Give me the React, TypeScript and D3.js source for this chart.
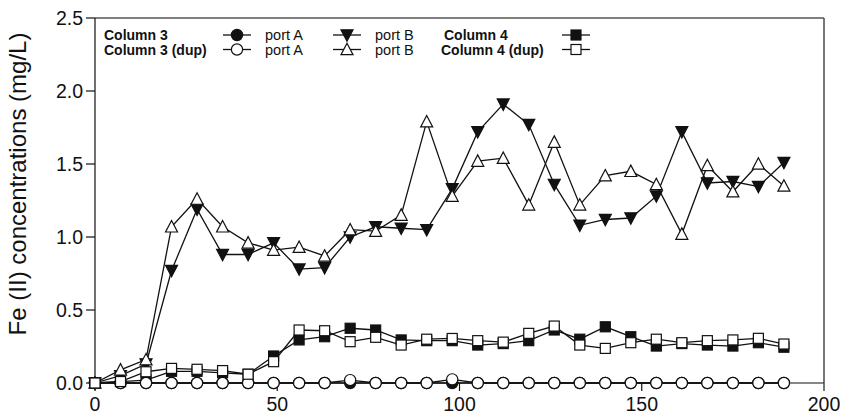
import React from "react";
import * as d3 from "d3";

const days = [0, 7, 14, 21, 28, 35, 42, 49, 56, 63, 70, 77, 84, 91, 98, 105, 112, 119, 126, 133, 140, 147, 154, 161, 168, 175, 182, 189];

const col3PortA = [0, 0, 0, 0, 0, 0, 0, 0, 0, 0, 0, 0, 0, 0, 0, 0, 0, 0, 0, 0, 0, 0, 0, 0, 0, 0, 0, 0];
const col3PortB = [0, 0.05, 0.13, 0.77, 1.19, 0.88, 0.88, 0.96, 0.78, 0.79, 1.0, 1.07, 1.06, 1.05, 1.33, 1.72, 1.91, 1.77, 1.36, 1.08, 1.12, 1.13, 1.28, 1.72, 1.37, 1.38, 1.345, 1.51];
const col3DupPortA = [0, 0, 0, 0, 0, 0, 0, 0, 0, 0, 0.02, 0, 0, 0, 0.025, 0, 0, 0, 0, 0, 0, 0, 0, 0, 0, 0, 0, 0];
const col3DupPortB = [0, 0.09, 0.16, 1.07, 1.26, 1.07, 0.96, 0.91, 0.93, 0.87, 1.05, 1.04, 1.15, 1.79, 1.28, 1.52, 1.54, 1.22, 1.65, 1.22, 1.42, 1.45, 1.36, 1.02, 1.49, 1.31, 1.5, 1.35];
const col4 = [0, 0.01, 0.02, 0.08, 0.08, 0.07, 0.06, 0.185, 0.295, 0.317, 0.375, 0.363, 0.295, 0.29, 0.29, 0.26, 0.27, 0.29, 0.363, 0.3, 0.385, 0.317, 0.253, 0.27, 0.26, 0.253, 0.276, 0.245];
const col4Dup = [0, 0.01, 0.077, 0.1, 0.094, 0.085, 0.06, 0.146, 0.363, 0.358, 0.283, 0.313, 0.26, 0.3, 0.305, 0.29, 0.28, 0.34, 0.39, 0.26, 0.237, 0.276, 0.3, 0.276, 0.29, 0.295, 0.306, 0.267];

const xTicks = [0, 50, 100, 150, 200];
const yTicks = [0, 0.5, 1.0, 1.5, 2.0, 2.5];
const yLabel = "Fe (II) concentrations (mg/L)";

type Shape = "circle" | "triDown" | "triUp" | "square";
const series: { values: number[]; shape: Shape; filled: boolean }[] = [
  { values: col3PortA, shape: "circle", filled: true },
  { values: col3PortB, shape: "triDown", filled: true },
  { values: col4, shape: "square", filled: true },
  { values: col3DupPortA, shape: "circle", filled: false },
  { values: col3DupPortB, shape: "triUp", filled: false },
  { values: col4Dup, shape: "square", filled: false },
];

const W = 842, H = 415;
const L = 95, R = 824, T = 18, B = 383;
const FONT = "Liberation Sans, Arial, Helvetica, sans-serif";

function Marker({ shape, filled, x, y }: { shape: Shape; filled: boolean; x: number; y: number }) {
  const fill = filled ? "#111" : "#fff";
  const stroke = "#111";
  const sw = 1.2;
  if (shape === "circle") return <circle cx={x} cy={y} r={5.6} fill={fill} stroke={stroke} strokeWidth={sw} />;
  if (shape === "square") return <rect x={x - 5} y={y - 5} width={10} height={10} fill={fill} stroke={stroke} strokeWidth={sw} />;
  const s = 6;
  const h = 5.2;
  const pts =
    shape === "triDown"
      ? [[x - s, y - h], [x + s, y - h], [x, y + h + 1]]
      : [[x - s, y + h], [x + s, y + h], [x, y - h - 1]];
  return <polygon points={pts.map((p) => p.join(",")).join(" ")} fill={fill} stroke={stroke} strokeWidth={sw} strokeLinejoin="miter" />;
}

export default function App() {
  const x = d3.scaleLinear().domain([0, 200]).range([L, R]);
  const y = d3.scaleLinear().domain([0, 2.5]).range([B, T]);
  const line = d3.line<number>().x((_, i) => x(days[i])).y((v) => y(v));

  const legendRows = [
    { label: "Column 3", labelX: 104, y: 35, items: [{ shape: "circle" as Shape, filled: true, cx: 237, text: "port A" }, { shape: "triDown" as Shape, filled: true, cx: 347, text: "port B" }], label2: "Column 4", label2X: 444, sq: { filled: true } },
    { label: "Column 3 (dup)", labelX: 104, y: 49.5, items: [{ shape: "circle" as Shape, filled: false, cx: 237, text: "port A" }, { shape: "triUp" as Shape, filled: false, cx: 347, text: "port B" }], label2: "Column 4 (dup)", label2X: 441, sq: { filled: false } },
  ];

  return (
    <svg width={W} height={H} style={{ position: "absolute", left: 0, top: 0, background: "#fff" }} fontFamily={FONT}>
      <rect x={0} y={0} width={W} height={H} fill="#fff" />
      {/* frame */}
      <line x1={L} x2={R} y1={T} y2={T} stroke="#555" strokeWidth={1.6} />
      <line x1={R} x2={R} y1={T} y2={B} stroke="#555" strokeWidth={1.6} />
      <line x1={L} x2={R} y1={B} y2={B} stroke="#111" strokeWidth={1.2} />
      <line x1={L} x2={L} y1={T} y2={B} stroke="#111" strokeWidth={1.2} />
      {/* y ticks */}
      {yTicks.map((t) => (
        <g key={"y" + t}>
          <line x1={L - 9} x2={L} y1={y(t)} y2={y(t)} stroke="#111" strokeWidth={1.2} />
          <text x={L - 12} y={y(t)} dy="0.36em" textAnchor="end" fontSize={19.5} fill="#111">{d3.format(".1f")(t)}</text>
        </g>
      ))}
      {/* x ticks */}
      {xTicks.map((t) => (
        <g key={"x" + t}>
          <line x1={x(t)} x2={x(t)} y1={B} y2={B + 8} stroke={t === 200 ? "#555" : "#111"} strokeWidth={t === 200 ? 1.6 : 1.2} />
          <text x={x(t)} y={411} textAnchor="middle" fontSize={19.5} fill="#111">{t}</text>
        </g>
      ))}
      <text transform={`translate(26, 184) rotate(-90)`} textAnchor="middle" fontSize={24} fill="#111">{yLabel}</text>
      {/* series lines */}
      {series.map((s, i) => (
        <g key={"s" + i}>
          <path d={line(s.values) || ""} fill="none" stroke="#111" strokeWidth={1.3} />
          {s.values.map((v, j) => (
            <Marker key={j} shape={s.shape} filled={s.filled} x={x(days[j])} y={y(v)} />
          ))}
        </g>
      ))}
      {/* legend */}
      {legendRows.map((r, i) => (
        <g key={"lg" + i}>
          <text x={r.labelX} y={r.y} dy="0.36em" fontSize={14} fontWeight="bold" fill="#111">{r.label}</text>
          {r.items.map((it, k) => (
            <g key={k}>
              <line x1={it.cx - 14} x2={it.cx + 14} y1={r.y} y2={r.y} stroke="#111" strokeWidth={1.3} />
              <Marker shape={it.shape} filled={it.filled} x={it.cx} y={r.y} />
              <text x={it.cx + 28} y={r.y} dy="0.36em" fontSize={14.5} fill="#111">{it.text}</text>
            </g>
          ))}
          <text x={r.label2X} y={r.y} dy="0.36em" fontSize={14} fontWeight="bold" fill="#111">{r.label2}</text>
          <line x1={562} x2={590} y1={r.y} y2={r.y} stroke="#111" strokeWidth={1.3} />
          <Marker shape="square" filled={r.sq.filled} x={576} y={r.y} />
        </g>
      ))}
    </svg>
  );
}
